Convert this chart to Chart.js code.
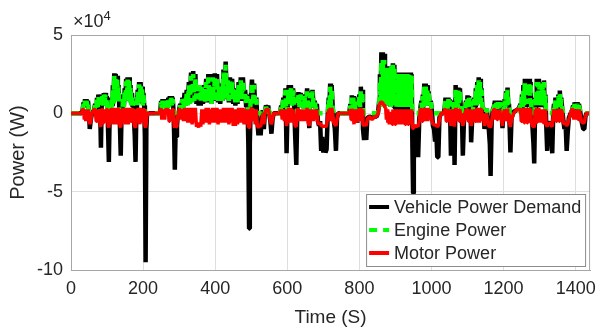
<!DOCTYPE html>
<html>
<head>
<meta charset="utf-8">
<script src="https://cdn.jsdelivr.net/npm/chart.js@4.4.1/dist/chart.umd.min.js"></script>
<style>
  html, body { margin: 0; padding: 0; background: #fff; }
  canvas { display: block; }
</style>
</head>
<body>
<canvas id="powerChart" width="604" height="331"></canvas>
<script>
// time (s) and power values (x10^4 W)
var time = [
  0,30,
  32,35,37,39,41,43,45,47,50,52,55,58,
  64,67,70,72,74,76,78,80,82,83,85,87,89,91,93,95,97,99,101,103,105,107,
  110,112,114,116,118,120,122,124,126,128,130,132,134,136,138,140,
  143,145,147,149,151,153,155,157,159,161,163,165,167,169,171,173,175,177,179,181,
  183,185,187,189,191,193,195,197,199,201,203,205,207,209,211,
  214,245,
  248,250,252,254,256,258,260,262,264,266,268,270,272,274,276,278,280,282,284,286,288,290,292,294,296,298,
  300,303,306,309,312,315,318,321,324,327,
  330,333,336,339,342,345,348,351,354,357,
  360,363,366,369,372,375,378,381,384,387,
  390,393,396,399,402,405,408,411,414,417,
  420,423,426,429,432,435,438,441,444,447,
  450,453,456,459,462,465,468,471,474,477,
  480,483,486,489,492,494,496,499,502,505,
  508,511,514,517,520,523,526,529,532,535,
  538,541,544,547,550,553,556,559,562,
  580,583,586,589,592,595,598,601,604,607,
  610,613,616,619,622,625,628,631,634,637,
  640,643,646,649,652,655,658,661,664,667,
  670,673,676,679,682,685,688,691,694,697,
  700,703,706,709,712,715,717,719,721,723,
  726,729,732,735,738,741,
  772,775,777,779,781,783,785,787,789,791,
  794,797,800,802,804,806,808,810,813,816,
  819,822,828,835,842,848,852,
  855,857,859,861,863,865,867,869,871,873,
  875,877,879,881,883,885,887,889,891,893,
  895,897,899,901,903,905,907,909,911,913,
  915,917,919,921,923,925,927,929,931,933,
  935,937,939,941,943,945,947,949,951,953,
  955,958,961,963,966,969,972,974,976,978,
  980,982,984,986,988,990,992,995,998,1001,
  1004,1007,1010,1013,1016,1019,1022,1026,1034,1037,
  1039,1041,1043,1045,1047,1049,1051,1054,1057,1060,
  1062,1064,1067,1069,1071,1073,1075,1077,1079,1081,
  1084,1087,1090,1093,1096,1098,1100,1102,1104,1106,
  1108,1110,1113,1116,1119,1121,1123,1125,1127,1129,
  1131,1133,1135,1137,1139,1141,1144,1147,1150,1153,
  1156,1159,1162,1164,1167,1170,1173,1176,1178,1180,
  1182,1184,1186,1188,1190,1192,1194,1197,1200,1203,
  1205,1207,1209,1211,1213,1215,1217,1219,1222,1228,
  1236,1242,1247,1249,1251,1253,1255,1257,1259,1261,
  1263,1265,1267,1269,1271,1273,1275,1277,1280,1283,
  1285,1288,1290,1292,1294,1296,1298,1300,1302,1304,
  1306,1308,1310,1312,1314,1316,1318,1321,1324,1327,
  1330,1333,1335,1338,1340,1342,1344,1346,1348,1350,
  1352,1354,1356,1358,1360,1363,1366,1369,1372,1375,
  1378,1381,1386,1390,1393,1395,1397,1399,1401,1403,
  1405,1407,1409,1412,1415,1418,1421,1424,1427,1430,
  1440
];

var demand = [
  0,0,
  0.2,0.7,0.4,0.9,0.5,0.9,0.6,0.8,0.1,-1.0,-0.4,0,
  0.2,0.6,0.3,1.0,0.5,1.2,0.6,1.1,-1.0,-2.2,0.5,1.2,0.6,1.3,0.7,1.3,0.6,1.1,0.4,-1.2,-3.1,-0.5,
  0.3,1.0,0.5,1.8,0.7,2.55,0.8,2.5,1.0,2.4,0.9,1.8,0.3,-1.0,-2.7,-0.3,
  0.4,1.2,0.5,1.6,0.8,2.2,0.9,2.3,1.0,2.3,0.8,1.8,0.6,1.3,0.4,0.9,-0.5,-1.5,-3.1,-0.4,
  0.5,1.5,0.7,2.0,0.8,2.0,0.9,1.7,0.6,1.3,0.5,-1.5,-9.5,-1.0,0,
  0,0,
  0.2,0.8,0.4,0.9,0.5,0.9,0.4,0.8,0.2,0.4,0.5,1.0,0.5,1.1,0.6,1.1,0.5,1.0,0.3,-1.2,-3.6,-1.4,-1.5,-0.8,-0.2,0,
  0.2,0.6,0.3,1.0,0.4,1.3,0.5,1.5,0.6,2.0,
  0.7,2.6,0.8,2.7,0.9,2.5,0.6,1.6,0.5,1.6,
  0.5,1.7,0.6,1.8,0.7,2.2,0.8,2.5,0.7,1.8,
  0.6,2.5,0.8,2.55,0.9,2.5,0.7,1.8,0.6,1.9,
  0.8,2.8,0.9,3.3,1.0,2.3,0.7,2.3,0.8,2.2,
  0.6,1.6,0.5,1.6,0.6,2.0,0.8,2.3,0.9,2.3,
  0.8,1.5,0.4,1.2,-2.0,-7.35,-2.0,1.0,2.15,0.8,
  1.9,0.3,1.0,-0.5,-1.4,-0.8,-1.4,-0.4,0.2,-1.0,
  0.1,0.5,0.3,0.5,0,-0.5,-1.3,-0.4,0,
  0,0.5,0.3,1.0,0.5,1.6,-2.55,0.6,1.8,0.7,
  1.8,0.6,1.6,0.5,-1.5,-3.3,0.4,1.35,0.5,1.3,
  0.4,1.0,0.3,1.2,0.5,1.6,0.5,-0.95,1.4,0.5,
  1.5,0.4,0.8,0.3,0.6,-0.5,-0.8,-0.5,-2.4,-1.5,
  -2.5,-1.8,-2.5,-2.3,-0.2,1.0,0.4,1.9,0.6,1.8,
  0.4,-0.5,-1.0,-2.4,-0.3,0,
  0,0.6,0.3,1.15,0.4,1.1,0.2,1.0,-0.3,0.3,
  -0.6,0.4,1.2,0.5,1.7,0.6,1.5,-1.0,-1.7,-1.2,
  -1.7,-0.3,-0.2,-0.3,-0.2,-0.2,0.1,
  0.8,2.5,0.9,3.9,1.0,3.9,1.0,3.8,0.9,3.0,
  0.8,3.0,0.6,2.8,0.5,2.9,0.4,3.0,0.5,3.2,
  0.6,3.1,0.3,2.4,0.3,2.6,0.2,2.6,0.3,2.6,
  0.2,2.6,0.3,2.6,0.2,2.6,0.3,2.6,0.2,2.6,
  0.3,2.6,0.2,2.6,0.4,2.5,-2.0,-5.1,-3.0,-1.0,
  -1.0,-1.8,-1.2,-2.8,-0.4,0.3,0.8,0.3,1.2,0.4,
  1.9,0.6,1.9,0.6,1.8,0.5,1.4,0.5,0.8,0.2,
  -0.8,-1.0,-1.8,-0.8,-2.8,-2.8,-0.3,0,0,0.4,
  1.0,0.4,1.0,0.3,1.0,0.3,0.9,-2.7,0.4,0.8,
  0.3,-3.3,1.8,0.5,1.2,0.5,1.65,0.5,1.6,0.4,
  0.3,-2.7,-0.5,0.3,0.8,0.3,1.15,0.4,1.1,0.4,
  0.9,-1.85,-0.3,0.4,1.0,0.4,1.6,0.5,2.0,0.6,
  2.3,0.7,2.2,0.6,1.6,0.4,0.3,-1.0,-0.3,0.3,
  -0.3,-1.0,-2.0,-4.0,-0.5,0.2,0.4,0.8,0.3,0.8,
  0.3,0.8,0.3,0.8,0.3,0.7,0.2,-0.95,0.3,0.9,
  0.4,1.4,0.5,1.65,0.5,0.6,-1.0,-2.5,-0.3,0.1,
  0.2,0.3,0.6,0.3,1.2,0.4,1.8,0.5,2.2,0.6,
  2.2,0.5,2.1,0.6,2.2,0.5,2.0,0.3,-0.8,-2.0,
  -3.2,1.0,0.4,2.2,0.5,2.2,0.5,2.0,0.4,1.5,
  0.4,1.8,0.5,2.1,0.4,1.2,-0.5,-2.4,-0.5,-0.9,
  -0.6,-1.5,-2.55,0.2,0.6,0.3,1.0,0.3,0.9,0.4,
  1.2,0.4,1.45,0.4,1.0,0.2,-0.5,-1.0,-0.6,-2.4,
  -1.2,-0.3,0,0.2,0.5,0.2,0.7,0.3,0.7,0.3,
  0.7,0.3,0.6,0.2,-0.3,-0.7,-1.0,-1.0,-0.2,0,
  0
];

var engine = [
  0,0,
  0.1,0.6,0.3,0.8,0.4,0.8,0.5,0.7,0,0,0,0,
  0.1,0.5,0.2,0.9,0.4,1.1,0.5,1.0,0,0,0.4,1.1,0.5,1.2,0.6,1.2,0.5,1.0,0.3,0,0,0,
  0.2,0.9,0.4,1.6,0.6,2.4,0.7,2.35,0.9,2.25,0.8,1.7,0.2,0,0,0,
  0.3,1.1,0.4,1.5,0.7,2.05,0.8,2.15,0.9,2.15,0.7,1.7,0.5,1.2,0.3,0.8,0,0,0,0,
  0.4,1.4,0.6,1.85,0.7,1.85,0.8,1.6,0.5,1.2,0.4,0,0,0,0,
  0,0,
  0.1,0.7,0.3,0.8,0.4,0.8,0.3,0.7,0.1,0.3,0.4,0.9,0.4,1.0,0.5,1.0,0.4,0.9,0.2,0,0,0,0,0,0,0,
  0.1,0.5,0.2,0.9,0.3,1.1,0.4,1.3,0.5,1.8,
  0.6,2.4,0.7,2.5,0.8,2.3,0.9,1.8,0.9,1.8,
  0.8,1.7,0.7,1.7,0.7,2.0,0.8,2.3,0.8,1.7,
  0.6,2.3,0.8,2.35,0.9,2.3,0.8,1.7,0.7,1.8,
  0.8,2.6,0.9,3.1,1.0,2.1,0.8,2.1,0.9,2.0,
  0.8,1.5,0.7,1.5,0.7,1.8,0.8,2.1,0.9,2.1,
  0.9,1.4,0.6,1.1,0,0,0,0.9,2.0,0.8,
  1.8,0.5,0.9,0,0,0,0,0,0.2,0,
  0.1,0.4,0.2,0.4,0,0,0,0,0,
  0,0.4,0.2,0.9,0.4,1.5,0,0.5,1.6,0.6,
  1.6,0.5,1.5,0.4,0,0,0.3,1.2,0.4,1.2,
  0.4,0.9,0.3,1.1,0.4,1.4,0.5,0,1.3,0.4,
  1.4,0.4,0.7,0.3,0.5,0,0,0,0,0,
  0,0,0,0,0,0.9,0.3,1.7,0.5,1.6,
  0.3,0,0,0,0,0,
  0,0.5,0.2,1.0,0.3,1.0,0.2,0.9,0,0.3,
  0,0.3,1.1,0.4,1.5,0.5,1.4,0,0,0,
  0,0,0,0,0,0,0.1,
  0.4,2.0,0.4,3.3,0.5,3.4,0.6,3.4,0.6,2.8,
  0.5,2.9,0.5,2.8,0.5,2.9,0.4,3.0,0.5,3.1,
  0.5,3.0,0.4,2.3,0.4,2.5,0.4,2.5,0.4,2.5,
  0.4,2.5,0.4,2.5,0.4,2.5,0.4,2.5,0.4,2.5,
  0.4,2.5,0.4,2.5,0.5,2.4,0,0,0,0,
  0,0,0,0,0,0.2,0.7,0.3,1.1,0.4,
  1.7,0.5,1.7,0.5,1.6,0.5,1.3,0.5,0.7,0.2,
  0,0,0,0,0,0,0,0,0,0.3,
  0.9,0.4,0.9,0.3,0.9,0.3,0.8,0,0.3,0.7,
  0.3,0,1.6,0.5,1.1,0.4,1.5,0.5,1.5,0.4,
  0.3,0,0,0.3,0.7,0.3,1.0,0.4,1.0,0.4,
  0.8,0,0,0.4,0.9,0.4,1.5,0.5,1.8,0.6,
  2.1,0.7,2.0,0.6,1.5,0.4,0.3,0,0,0.3,
  0,0,0,0,0,0.2,0.3,0.7,0.3,0.7,
  0.3,0.7,0.3,0.7,0.3,0.7,0.2,0,0.3,0.8,
  0.4,1.3,0.5,1.5,0.5,0.6,0,0,0,0.1,
  0.1,0.2,0.5,0.3,1.1,0.4,1.6,0.5,2.0,0.6,
  2.0,0.6,1.9,0.6,2.0,0.6,1.9,0.4,0,0,
  0,0.9,0.5,2.0,0.6,2.0,0.6,1.9,0.5,1.4,
  0.5,1.7,0.6,2.0,0.5,1.1,0,0,0,0,
  0,0,0,0.2,0.5,0.3,0.9,0.3,0.8,0.4,
  1.1,0.4,1.3,0.4,0.9,0.2,0,0,0,0,
  0,0,0,0.1,0.4,0.2,0.6,0.3,0.6,0.3,
  0.6,0.3,0.5,0.2,0,0,0,0,0,0,
  0
];

var motor = [
  0,0,
  0.25,0.25,-0.4,0.25,-0.5,0.25,-0.4,0.25,0,-0.7,-0.5,0,
  0.25,0.25,-0.5,0.25,-0.6,0.25,-0.5,0.25,-0.8,-0.85,0.25,0.25,-0.6,0.25,-0.5,0.25,-0.6,0.25,0.25,-0.8,-0.9,-0.5,
  0.25,0.25,-0.6,0.35,-0.7,0.35,-0.6,0.35,-0.7,0.35,-0.6,0.25,0.25,-0.8,-0.9,-0.4,
  0.25,0.25,-0.6,0.25,-0.7,0.35,-0.6,0.35,-0.7,0.35,-0.6,0.25,-0.5,0.25,0.25,0.25,-0.7,-0.85,-0.9,-0.5,
  0.25,0.25,-0.6,0.35,-0.7,0.35,-0.6,0.25,-0.5,0.25,0.25,-0.8,-0.9,-0.6,0,
  0,0,
  0.25,0.25,-0.4,0.25,-0.4,0.25,-0.4,0.25,0.25,0.25,0.25,0.25,-0.5,0.25,-0.5,0.25,-0.5,0.25,0.25,-0.8,-0.9,-0.8,-0.85,-0.6,-0.2,0,
  0.25,0.25,-0.4,0.25,-0.5,0.35,-0.5,0.35,-0.6,0.35,
  -0.6,0.35,-0.7,0.35,-0.6,0.35,-0.85,-0.7,-0.9,-0.6,
  -0.85,0.25,-0.7,0.25,-0.6,0.35,-0.6,0.35,-0.7,0.25,
  -0.6,0.35,-0.6,0.35,-0.6,0.35,-0.7,0.25,-0.6,0.25,
  -0.6,0.35,-0.6,0.35,-0.6,0.35,-0.7,0.35,-0.6,0.35,
  -0.8,0.25,-0.8,0.25,-0.7,0.35,-0.6,0.35,-0.6,0.35,
  -0.7,0.25,-0.7,0.25,-0.85,-0.9,-0.8,0.25,0.35,-0.5,
  0.25,-0.7,0.25,-0.8,-0.9,-0.8,-0.85,-0.5,0,-0.7,
  0,0.25,0.25,0.25,0,-0.5,-0.7,-0.4,0,
  0,0.25,-0.4,0.25,-0.5,0.25,-0.8,-0.4,0.35,-0.6,
  0.35,-0.6,0.25,-0.5,-0.8,-0.85,0.25,0.25,-0.5,0.25,
  -0.5,0.25,-0.5,0.25,-0.5,0.35,-0.6,-0.8,0.25,-0.5,
  0.25,-0.5,0.25,-0.4,0.25,-0.6,-0.7,-0.6,-0.8,-0.8,
  -0.85,-0.8,-0.85,-0.8,-0.2,0.25,-0.4,0.35,-0.5,0.35,
  0,-0.6,-0.7,-0.8,-0.4,0,
  0,0.25,-0.4,0.3,-0.5,0.25,-0.7,0.25,-0.6,0,
  -0.6,0.25,0.25,-0.4,0.35,-0.5,0.25,-0.7,-0.8,-0.7,
  -0.8,-0.4,-0.2,-0.4,-0.2,-0.2,0,
  0.55,0.65,0.7,0.7,0.7,0.65,0.55,0.55,0.35,0.35,
  -0.4,0.25,-0.6,0.1,-0.7,0.1,-0.7,0.1,-0.7,0.25,
  -0.6,0.25,-0.7,0.25,-0.7,0.25,-0.7,0.25,-0.7,0.25,
  -0.7,0.25,-0.7,0.25,-0.7,0.25,-0.7,0.25,-0.7,0.25,
  -0.7,0.25,-0.7,0.25,-0.6,0.25,-0.9,-0.95,-0.9,-0.8,
  -0.8,-0.85,-0.8,-0.85,-0.5,0.25,0.25,-0.5,0.25,-0.5,
  0.35,-0.5,0.35,-0.5,0.35,-0.5,0.25,-0.4,0.25,-0.4,
  -0.7,-0.7,-0.8,-0.7,-0.85,-0.8,-0.4,0,0,0.25,
  0.25,-0.5,0.25,-0.5,0.25,-0.5,0.25,-0.8,0,0.25,
  -0.4,-0.85,0.35,-0.5,0.25,-0.5,0.3,-0.5,0.25,-0.5,
  0,-0.8,-0.5,0,0.25,-0.4,0.3,-0.5,0.25,-0.4,
  0.25,-0.8,-0.4,0,0.25,-0.5,0.25,-0.5,0.35,-0.6,
  0.35,-0.6,0.35,-0.5,0.25,-0.4,0,-0.8,-0.5,0,
  -0.4,-0.8,-0.85,-0.9,-0.5,0,0.25,0.25,-0.4,0.25,
  -0.4,0.25,-0.4,0.25,-0.4,0,-0.4,-0.8,0,0.25,
  -0.5,0.25,-0.5,0.3,-0.5,0,-0.7,-0.85,-0.4,0,
  0.25,0.25,0.25,-0.5,0.25,-0.5,0.35,-0.6,0.35,-0.6,
  0.35,-0.6,0.35,-0.6,0.35,-0.6,0.25,-0.6,-0.8,-0.85,
  -0.9,0.25,-0.6,0.35,-0.6,0.35,-0.6,0.25,-0.6,0.25,
  -0.6,0.25,-0.6,0.25,-0.6,0.25,-0.7,-0.85,-0.6,-0.7,
  -0.6,-0.8,-0.85,0,0.25,-0.5,0.25,-0.5,0.25,-0.5,
  0.25,-0.5,0.3,-0.5,0.25,0,-0.6,-0.7,-0.6,-0.8,
  -0.7,-0.4,0,0.25,0.25,-0.4,0.25,-0.4,0.25,-0.4,
  0.25,-0.4,0.25,0,-0.4,-0.6,-0.6,-0.6,-0.2,0,
  0
];

var seriesNames = ['Vehicle Power Demand', 'Engine Power', 'Motor Power'];
var xTicks = [0, 200, 400, 600, 800, 1000, 1200, 1400];
var yTicks = [-10, -5, 0, 5];

function pts(vals) {
    var out = [];
    for (var i = 0; i < time.length; i++) {
        out.push({x: time[i], y: vals[i]});
    }
    return out;
}

var fontFam = '"Liberation Sans", Arial, sans-serif';
var txtColor = '#262626';

// legend box inside the plot + top/right frame + x10^4 label
var matlabBits = {
    id: 'matlabBits',
    afterDatasetsDraw: function (chart) {
        var c = chart.ctx, a = chart.chartArea;
        c.save();
        // frame on top and right
        c.strokeStyle = '#a6a6a6';
        c.lineWidth = 1;
        c.beginPath();
        c.moveTo(a.left, a.top + 0.5);
        c.lineTo(a.right - 0.5, a.top + 0.5);
        c.lineTo(a.right - 0.5, a.bottom);
        c.stroke();

        // legend
        var bw = 219, bh = 72;
        var bx = a.right - 5 - bw, by = a.bottom - 4 - bh;
        c.fillStyle = '#fff';
        c.fillRect(bx, by, bw, bh);
        c.strokeStyle = '#8c8c8c';
        c.strokeRect(bx + 0.5, by + 0.5, bw, bh);
        c.font = '18px ' + fontFam;
        c.textBaseline = 'middle';
        var ds = chart.data.datasets;
        for (var i = 0; i < ds.length; i++) {
            var yy = by + 13 + i * 23;
            c.strokeStyle = ds[i].borderColor;
            c.lineWidth = 4;
            c.setLineDash(ds[i].borderDash || []);
            c.beginPath();
            c.moveTo(bx + 3, yy);
            c.lineTo(bx + 23, yy);
            c.stroke();
            c.setLineDash([]);
            c.fillStyle = txtColor;
            c.textAlign = 'left';
            c.fillText(ds[i].label, bx + 28, yy + 1);
        }

        // exponent label
        c.fillStyle = txtColor;
        c.textBaseline = 'alphabetic';
        c.font = '18px ' + fontFam;
        c.fillText('\u00d710', a.left + 2, a.top - 8);
        var w = c.measureText('\u00d710').width;
        c.font = '13px ' + fontFam;
        c.fillText('4', a.left + 2 + w, a.top - 15);
        c.restore();
    }
};

var ctx = document.getElementById('powerChart');
var chart = new Chart(ctx, {
    type: 'line',
    data: {
        datasets: [
            {
                label: seriesNames[0],
                data: pts(demand),
                borderColor: '#000000',
                borderWidth: 4.5,
                order: 3
            },
            {
                label: seriesNames[1],
                data: pts(engine),
                borderColor: '#00ff00',
                borderWidth: 4.5,
                borderDash: [8, 6],
                order: 2
            },
            {
                label: seriesNames[2],
                data: pts(motor),
                borderColor: '#ff0000',
                borderWidth: 3.5,
                order: 1
            }
        ]
    },
    options: {
        responsive: false,
        animation: false,
        events: [],
        elements: {
            point: { radius: 0 },
            line: { tension: 0, borderJoinStyle: 'bevel', fill: false }
        },
        layout: { padding: { top: 35, right: 11, left: 0, bottom: 0 } },
        plugins: {
            legend: { display: false },
            tooltip: { enabled: false }
        },
        scales: {
            x: {
                type: 'linear',
                min: 0,
                max: 1440,
                afterBuildTicks: function (s) {
                    s.ticks = xTicks.map(function (v) { return {value: v}; });
                },
                ticks: {
                    font: { family: fontFam, size: 18 },
                    color: txtColor,
                    padding: 8,
                    maxRotation: 0,
                    callback: function (v) { return String(v); }
                },
                grid: { color: '#dedede', drawTicks: false },
                border: { color: '#a6a6a6' },
                title: {
                    display: true,
                    text: 'Time (S)',
                    color: txtColor,
                    font: { family: fontFam, size: 19 },
                    padding: { top: 0, bottom: 2 }
                },
                afterFit: function (s) { s.height = 61; }
            },
            y: {
                min: -10,
                max: 5,
                afterBuildTicks: function (s) {
                    s.ticks = yTicks.map(function (v) { return {value: v}; });
                },
                ticks: {
                    font: { family: fontFam, size: 18 },
                    color: txtColor,
                    padding: 8
                },
                grid: { color: '#dedede', drawTicks: false },
                border: { color: '#a6a6a6' },
                title: {
                    display: true,
                    text: 'Power (W)',
                    color: txtColor,
                    font: { family: fontFam, size: 20 },
                    padding: { top: 6, bottom: 0 }
                },
                afterFit: function (s) { s.width = 71; }
            }
        }
    },
    plugins: [matlabBits]
});
</script>
</body>
</html>
